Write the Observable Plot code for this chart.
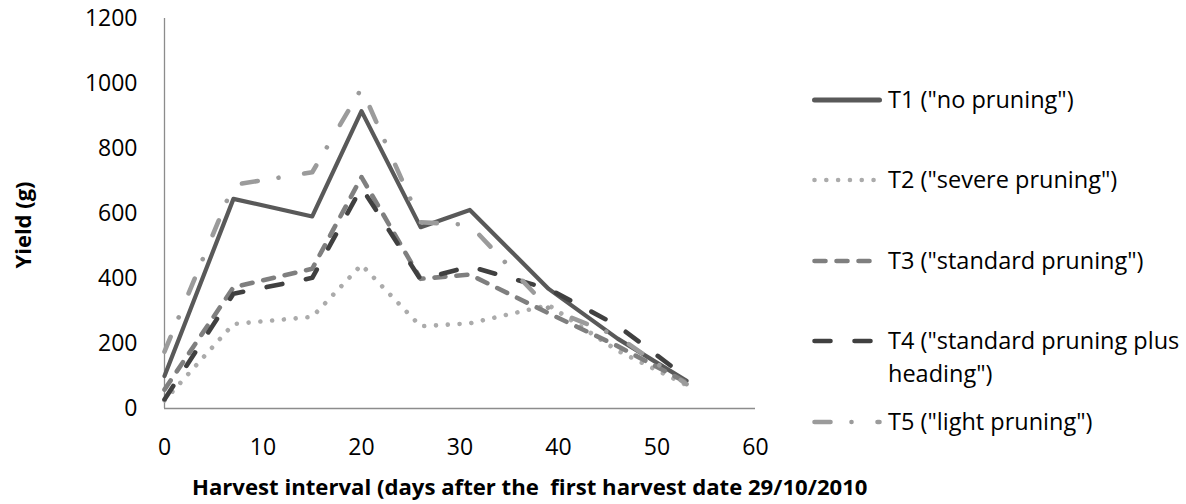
<!DOCTYPE html>
<html>
<head>
<meta charset="utf-8">
<script src="https://cdn.jsdelivr.net/npm/d3@7"></script>
<script src="https://cdn.jsdelivr.net/npm/@observablehq/plot@0.6"></script>
<style>
  html, body { margin: 0; padding: 0; background: #fff; }
  #chart { position: relative; width: 1186px; height: 504px; }
  svg { font-family: "Open Sans", "Noto Sans", sans-serif; }
</style>
</head>
<body>
<div id="chart"></div>
<script>
// ---- data ----
const days = [0, 7, 15, 20, 26, 31, 39, 46, 53];
const t1 = [100, 645, 591, 915, 558, 611, 368, 215, 85];
const t2 = [25, 260, 282, 442, 253, 262, 318, 178, 72];
const t3 = [58, 373, 430, 712, 399, 412, 293, 192, 80];
const t4 = [28, 353, 402, 680, 397, 437, 368, 255, 95];
const t5 = [175, 688, 727, 985, 573, 565, 308, 222, 75];
const seriesNames = [
  'T1 ("no pruning")',
  'T2 ("severe pruning")',
  'T3 ("standard pruning")',
  'T4 ("standard pruning plus heading")',
  'T5 ("light pruning")'
];
const xTicks = [0, 10, 20, 30, 40, 50, 60];
const yTicks = [0, 200, 400, 600, 800, 1000, 1200];
const xTitle = "Harvest interval (days after the  first harvest date 29/10/2010";
const yTitle = "Yield (g)";

// ---- styles ----
const styles = [
  {stroke: "#595959", dash: null, width: 4.2},
  {stroke: "#ababab", dash: "0.01,11.8", width: 4.6},
  {stroke: "#7f7f7f", dash: "11,11", width: 4.6},
  {stroke: "#404040", dash: "16,24", width: 4.6},
  {stroke: "#9b9b9b", dash: "16,21,0.01,26", width: 4.6}
];

const values = [t1, t2, t3, t4, t5];
const rows = values.map((vals, i) => days.map((d, j) => ({day: d, yield: vals[j], series: seriesNames[i]})));

const W = 1186, H = 504;
const mL = 164, mR = 431, mT = 18, mB = 96;

const plot = Plot.plot({
  width: W,
  height: H,
  marginLeft: mL,
  marginRight: mR,
  marginTop: mT,
  marginBottom: mB,
  style: {fontFamily: '"Open Sans", "Noto Sans", sans-serif', fontSize: "23px", color: "#000", background: "#fff"},
  x: {domain: [0, 60]},
  y: {domain: [0, 1200]},
  marks: [
    Plot.axisX({ticks: xTicks, tickSize: 0, tickPadding: 30, label: null, tickFormat: d => String(d)}),
    Plot.axisY({ticks: yTicks, tickSize: 0, tickPadding: 27, label: null, tickFormat: d => String(d)}),
    Plot.ruleY([0], {stroke: "#8c8c8c", strokeWidth: 1.3}),
    Plot.ruleX([0], {stroke: "#8c8c8c", strokeWidth: 1.3}),
    ...rows.map((r, i) => Plot.line(r, {
      x: "day", y: "yield",
      stroke: styles[i].stroke,
      strokeWidth: styles[i].width,
      strokeDasharray: styles[i].dash,
      strokeLinecap: "round",
      strokeLinejoin: "round"
    }))
  ]
});

document.getElementById("chart").appendChild(plot);
const svg = d3.select(plot);

// axis titles
const xt = svg.append("text")
  .attr("x", 192).attr("y", 495)
  .attr("text-anchor", "start")
  .attr("font-weight", "bold").attr("font-size", 23)
  .attr("fill", "#000")
  .style("white-space", "pre")
  .attr("xml:space", "preserve")
  .text(xTitle);
const targetW = 676;
const mw = xt.node().getComputedTextLength();
if (mw > 0) xt.attr("font-size", 23 * targetW / mw);

svg.append("text")
  .attr("transform", "translate(31,225) rotate(-90)")
  .attr("text-anchor", "middle")
  .attr("font-weight", "bold").attr("font-size", 22)
  .attr("fill", "#000")
  .text(yTitle);

// legend
const legendY = [100, 180, 261, 341, 422];
const legend = svg.append("g").attr("text-anchor", "start");
seriesNames.forEach((name, i) => {
  const g = legend.append("g").attr("transform", `translate(0,${legendY[i]})`);
  g.append("line")
    .attr("x1", 814.5).attr("x2", 879.5).attr("y1", 0).attr("y2", 0)
    .attr("stroke", styles[i].stroke)
    .attr("stroke-width", i === 0 ? 5 : styles[i].width)
    .attr("stroke-dasharray", styles[i].dash)
    .attr("stroke-linecap", "round");
  const t = g.append("text").attr("x", 888).attr("y", 0).attr("dy", "0.35em")
    .attr("text-anchor", "start")
    .attr("font-size", 23.5).attr("fill", "#000");
  if (i === 3) {
    t.append("tspan").attr("x", 888).text('T4 ("standard pruning plus');
    t.append("tspan").attr("x", 888).attr("dy", 32.5).text('heading")');
  } else {
    t.text(name);
  }
});
</script>
</body>
</html>
